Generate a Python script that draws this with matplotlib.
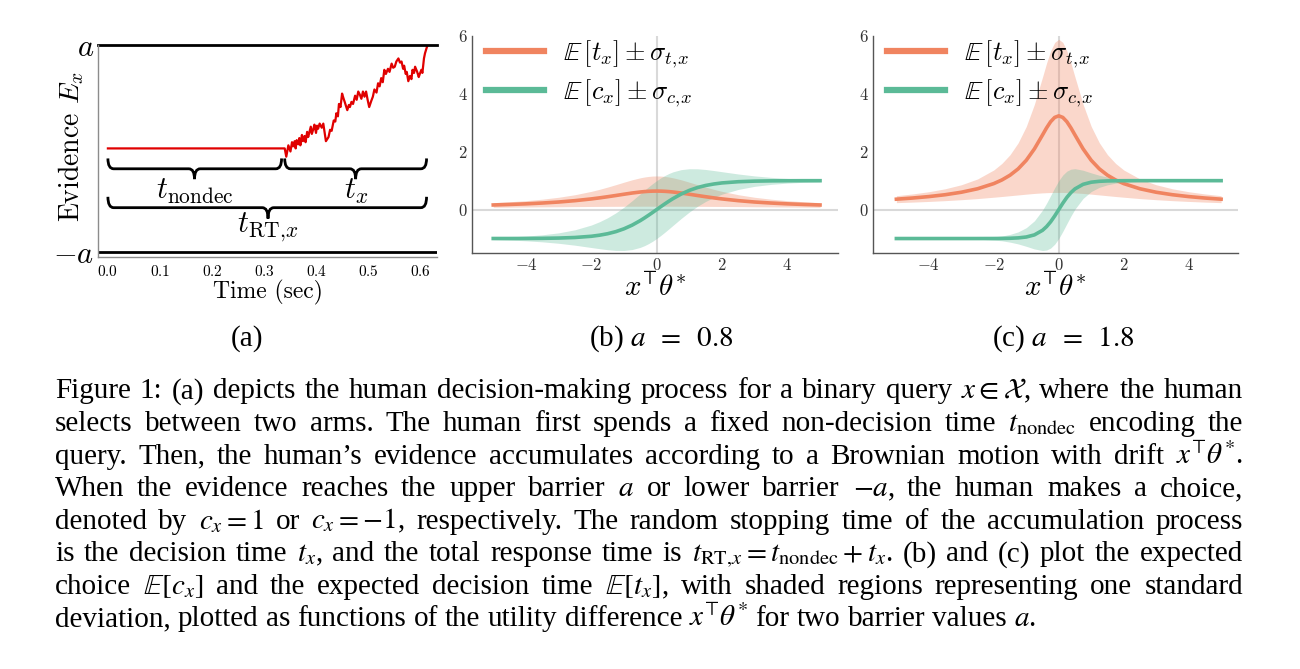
import matplotlib
matplotlib.use("Agg")
import matplotlib.pyplot as plt
from matplotlib.path import Path
from matplotlib.patches import PathPatch
from matplotlib.lines import Line2D

plt.rcParams['font.family'] = 'serif'
plt.rcParams['font.serif'] = ['cmr10']
plt.rcParams['mathtext.fontset'] = 'cm'
plt.rcParams['axes.formatter.use_mathtext'] = True

# ---- panel (a): evidence path ----
walk_t = [0.0, 0.339, 0.342, 0.346, 0.350, 0.353, 0.355, 0.358, 0.360, 0.362, 0.365, 0.367,
          0.369, 0.372, 0.374, 0.377, 0.379, 0.382, 0.384, 0.386, 0.389, 0.391, 0.394, 0.396,
          0.399, 0.401, 0.403, 0.406, 0.410, 0.413, 0.418, 0.423, 0.426, 0.429, 0.433, 0.436,
          0.438, 0.441, 0.443, 0.446, 0.449, 0.452, 0.454, 0.459, 0.462, 0.464, 0.467, 0.470,
          0.474, 0.477, 0.480, 0.483, 0.486, 0.489, 0.492, 0.495, 0.498, 0.501, 0.505, 0.508,
          0.511, 0.515, 0.518, 0.521, 0.524, 0.527, 0.530, 0.533, 0.537, 0.540, 0.544, 0.547,
          0.550, 0.553, 0.557, 0.560, 0.563, 0.566, 0.568, 0.571, 0.573, 0.576, 0.579, 0.582,
          0.584, 0.587, 0.589, 0.593, 0.596, 0.598, 0.601, 0.603, 0.606, 0.608, 0.611, 0.613]
walk_e = [0.0, 0.0, -0.08, 0.03, -0.03, 0.06, 0.02, 0.07, 0.0, 0.08, 0.04, 0.10,
          0.03, 0.13, 0.07, 0.12, 0.06, 0.16, 0.11, 0.15, 0.21, 0.14, 0.19, 0.23,
          0.15, 0.22, 0.19, 0.24, 0.20, 0.24, 0.07, 0.11, 0.18, 0.17, 0.27, 0.26,
          0.34, 0.31, 0.43, 0.40, 0.53, 0.48, 0.45, 0.37, 0.42, 0.40, 0.45, 0.43,
          0.51, 0.47, 0.55, 0.52, 0.48, 0.55, 0.50, 0.55, 0.47, 0.40, 0.46, 0.50,
          0.57, 0.54, 0.63, 0.60, 0.68, 0.64, 0.76, 0.72, 0.77, 0.74, 0.82, 0.78,
          0.79, 0.84, 0.87, 0.83, 0.84, 0.77, 0.80, 0.72, 0.74, 0.65, 0.70, 0.67,
          0.76, 0.73, 0.79, 0.74, 0.69, 0.72, 0.76, 0.73, 0.87, 0.92, 0.97, 1.0]

# ---- panels (b), (c): curves vs utility difference ----
x_util = [-5, -4.5, -4, -3.5, -3, -2.5, -2, -1.75, -1.5, -1.25, -1, -0.75, -0.5, -0.375, -0.25, -0.125, 0,
          0.125, 0.25, 0.375, 0.5, 0.75, 1, 1.25, 1.5, 1.75, 2, 2.5, 3, 3.5, 4, 4.5, 5]

t_mean_b = [0.160, 0.178, 0.199, 0.227, 0.262, 0.309, 0.369, 0.405, 0.445, 0.487, 0.531, 0.573, 0.608, 0.622, 0.632, 0.638, 0.640,
            0.638, 0.632, 0.622, 0.608, 0.573, 0.531, 0.487, 0.445, 0.405, 0.369, 0.309, 0.262, 0.227, 0.199, 0.178, 0.160]
t_std_b = [0.080, 0.093, 0.110, 0.133, 0.164, 0.205, 0.261, 0.295, 0.333, 0.374, 0.416, 0.457, 0.491, 0.504, 0.514, 0.521, 0.523,
           0.521, 0.514, 0.504, 0.491, 0.457, 0.416, 0.374, 0.333, 0.295, 0.261, 0.205, 0.164, 0.133, 0.110, 0.093, 0.080]
c_mean_b = [-0.999, -0.999, -0.997, -0.993, -0.984, -0.964, -0.922, -0.885, -0.834, -0.762, -0.664, -0.537, -0.380, -0.291, -0.197, -0.100, 0.0,
            0.100, 0.197, 0.291, 0.380, 0.537, 0.664, 0.762, 0.834, 0.885, 0.922, 0.964, 0.984, 0.993, 0.997, 0.999, 0.999]
c_std_b = [0.037, 0.055, 0.081, 0.121, 0.180, 0.266, 0.388, 0.465, 0.552, 0.648, 0.748, 0.844, 0.925, 0.957, 0.980, 0.995, 1.0,
           0.995, 0.980, 0.957, 0.925, 0.844, 0.748, 0.648, 0.552, 0.465, 0.388, 0.266, 0.180, 0.121, 0.081, 0.055, 0.037]

t_mean_c = [0.360, 0.400, 0.450, 0.514, 0.600, 0.720, 0.899, 1.025, 1.189, 1.408, 1.704, 2.098, 2.579, 2.824, 3.038, 3.186, 3.240,
            3.186, 3.038, 2.824, 2.579, 2.098, 1.704, 1.408, 1.189, 1.025, 0.899, 0.720, 0.600, 0.514, 0.450, 0.400, 0.360]
t_std_c = [0.120, 0.141, 0.168, 0.205, 0.258, 0.339, 0.471, 0.572, 0.709, 0.901, 1.170, 1.539, 2.001, 2.239, 2.448, 2.593, 2.646,
           2.593, 2.448, 2.239, 2.001, 1.539, 1.170, 0.901, 0.709, 0.572, 0.471, 0.339, 0.258, 0.205, 0.168, 0.141, 0.120]
c_mean_c = [-1.0, -1.0, -1.0, -1.0, -1.0, -1.0, -0.999, -0.996, -0.991, -0.978, -0.947, -0.874, -0.716, -0.588, -0.422, -0.221, 0.0,
            0.221, 0.422, 0.588, 0.716, 0.874, 0.947, 0.978, 0.991, 0.996, 0.999, 1.0, 1.0, 1.0, 1.0, 1.0, 1.0]
c_std_c = [0.0, 0.001, 0.001, 0.004, 0.009, 0.022, 0.055, 0.082, 0.134, 0.208, 0.322, 0.486, 0.698, 0.809, 0.907, 0.975, 1.0,
           0.975, 0.907, 0.809, 0.698, 0.486, 0.322, 0.208, 0.134, 0.082, 0.055, 0.022, 0.009, 0.004, 0.001, 0.001, 0.0]

panel_titles = ['(a)', r'(b) $a\;\;=\;\;0.8$', r'(c) $a\;\;=\;\;1.8$']

caption_lines = [
    "Figure 1: (a) depicts the human decision-making process for a binary query $x\\in\\mathcal{X}$, where the human",
    "selects between two arms. The human first spends a fixed non-decision time $t_{\\mathrm{nondec}}$ encoding the",
    "query. Then, the human\u2019s evidence accumulates according to a Brownian motion with drift $x^{\u22a4}\\theta^{*}$.",
    "When the evidence reaches the upper barrier $a$ or lower barrier $-a$, the human makes a choice,",
    "denoted by $c_x=1$ or $c_x=-1$, respectively. The random stopping time of the accumulation process",
    "is the decision time $t_x$, and the total response time is $t_{\\mathrm{RT},\\!x}=t_{\\mathrm{nondec}}+t_x$. (b) and (c) plot the expected",
    "choice $\\mathbb{E}[c_x]$ and the expected decision time $\\mathbb{E}[t_x]$, with shaded regions representing one standard",
    "deviation, plotted as functions of the utility difference $x^{\u22a4}\\theta^{*}$ for two barrier values $a$.",
]

W, H = 1300, 669
ORANGE = '#f08460'
GREEN = '#5bba97'

fig = plt.figure(figsize=(13, 6.69), dpi=100)


def brace(ax, x0, x1, xm, y, h, w=0.011):
    ym = y - h / 2
    yt = y - h
    verts = [(x0, y), (x0, ym), (x0 + w, ym), (xm - w, ym), (xm, ym), (xm, yt),
             (xm, ym), (xm + w, ym), (x1 - w, ym), (x1, ym), (x1, y)]
    codes = [Path.MOVETO, Path.CURVE3, Path.CURVE3, Path.LINETO, Path.CURVE3, Path.CURVE3,
             Path.CURVE3, Path.CURVE3, Path.LINETO, Path.CURVE3, Path.CURVE3]
    ax.add_patch(PathPatch(Path(verts, codes), fc='none', ec='black', lw=2.0))


# (a)
ax = fig.add_axes([98 / W, 1 - 257 / H, 339 / W, 212 / H])
ax.plot(walk_t, walk_e, color='#e00000', lw=1.6)
ax.axhline(1.0, color='black', lw=2.0, clip_on=False)
ax.axhline(-1.0, color='black', lw=2.0)
brace(ax, 0.0, 0.333, 0.166, -0.097, 0.2)
brace(ax, 0.339, 0.611, 0.475, -0.097, 0.2)
brace(ax, 0.0, 0.611, 0.307, -0.468, 0.21)
ax.text(0.166, -0.42, r'$t_{\mathrm{nondec}}$', ha='center', va='center', fontsize=22)
ax.text(0.475, -0.42, r'$t_x$', ha='center', va='center', fontsize=22)
ax.text(0.307, -0.76, r'$t_{\mathrm{RT},\!x}$', ha='center', va='center', fontsize=22)
ax.set_xlim(-0.019, 0.631)
ax.set_ylim(-1.05, 1.0)
ax.set_xticks([0.0, 0.1, 0.2, 0.3, 0.4, 0.5, 0.6])
ax.set_yticks([-1.0, 1.0], ['$-a$', '$a$'], fontsize=22)
ax.tick_params(axis='x', labelsize=11, length=0, pad=5)
ax.tick_params(axis='y', length=0, pad=3)
for s in ['top', 'right']:
    ax.spines[s].set_visible(False)
for s in ['left', 'bottom']:
    ax.spines[s].set_color('#8c8c8c')
    ax.spines[s].set_linewidth(1.0)
ax.set_xlabel('Time (sec)', fontsize=17, labelpad=1)
ax.set_ylabel('Evidence $E_x$', fontsize=20)
ax.yaxis.set_label_coords(-0.035, 0.52)

# (b), (c)
panels = [
    ([472 / W, 1 - 253 / H, 366 / W, 217 / H], (-5.65, 5.55), t_mean_b, t_std_b, c_mean_b, c_std_b),
    ([873 / W, 1 - 253 / H, 365 / W, 217 / H], (-5.72, 5.52), t_mean_c, t_std_c, c_mean_c, c_std_c),
]
for rect, xl, tm, ts, cm, cs in panels:
    ax = fig.add_axes(rect)
    ax.axhline(0, color='#d9d9d9', lw=1.5, zorder=0.5)
    ax.axvline(0, color='#d9d9d9', lw=1.5, zorder=0.5)
    ax.fill_between(x_util, [m - s for m, s in zip(tm, ts)], [m + s for m, s in zip(tm, ts)],
                    color=ORANGE, alpha=0.32, lw=0)
    ax.fill_between(x_util, [m - s for m, s in zip(cm, cs)], [m + s for m, s in zip(cm, cs)],
                    color=GREEN, alpha=0.3, lw=0)
    ax.plot(x_util, tm, color=ORANGE, lw=2.6)
    ax.plot(x_util, cm, color=GREEN, lw=2.6)
    ax.set_xlim(*xl)
    ax.set_ylim(-1.5, 6)
    ax.set_xticks([-4, -2, 0, 2, 4])
    ax.set_yticks([0, 2, 4, 6])
    ax.tick_params(labelsize=12, length=0, pad=3, colors='#333333')
    for s in ['top', 'right']:
        ax.spines[s].set_visible(False)
    for s in ['left', 'bottom']:
        ax.spines[s].set_color('#555555')
        ax.spines[s].set_linewidth(1.0)
    ax.set_xlabel('$x^{\u22a4}\\theta^{*}$', fontsize=21, labelpad=0)
    handles = [Line2D([], [], color=ORANGE, lw=4.5), Line2D([], [], color=GREEN, lw=4.5)]
    ax.legend(handles, [r'$\mathbb{E}\,[t_x] \pm \sigma_{t,\!x}$',
                        r'$\mathbb{E}\,[c_x] \pm \sigma_{c,\!x}$'],
              loc='upper left', bbox_to_anchor=(-0.005, 1.06), frameon=False, fontsize=19,
              handlelength=2.2, handletextpad=0.7, labelspacing=0.3, borderaxespad=0.2)

# panel titles and caption in a Times-like face
cap_kw = dict(family='Liberation Serif', math_fontfamily='stix', fontsize=21, color='black')
for cx, t in zip([247, 661, 1063], panel_titles):
    fig.text(cx / W, 1 - 346 / H, t, ha='center', va='baseline', **cap_kw)

fig.canvas.draw()
r = fig.canvas.get_renderer()
x_left, x_right = 55, 1243
sp = fig.text(0, 0, 'a a', **cap_kw)
sp2 = fig.text(0, 0, 'aa', **cap_kw)
space_w = sp.get_window_extent(r).width - sp2.get_window_extent(r).width
sp.remove()
sp2.remove()
for i, line in enumerate(caption_lines):
    words = line.split(' ')
    y = 1 - (398.3 + 32.6 * i) / H
    texts = [fig.text(0, y, w_, ha='left', va='baseline', **cap_kw) for w_ in words]
    widths = [t.get_window_extent(r).width for t in texts]
    if i == len(caption_lines) - 1:
        gap = space_w
    else:
        gap = max((x_right - x_left - sum(widths)) / (len(words) - 1), 2)
    x = x_left
    for t, w_ in zip(texts, widths):
        t.set_x(x / W)
        x += w_ + gap

fig.savefig('out.png', dpi=100)
